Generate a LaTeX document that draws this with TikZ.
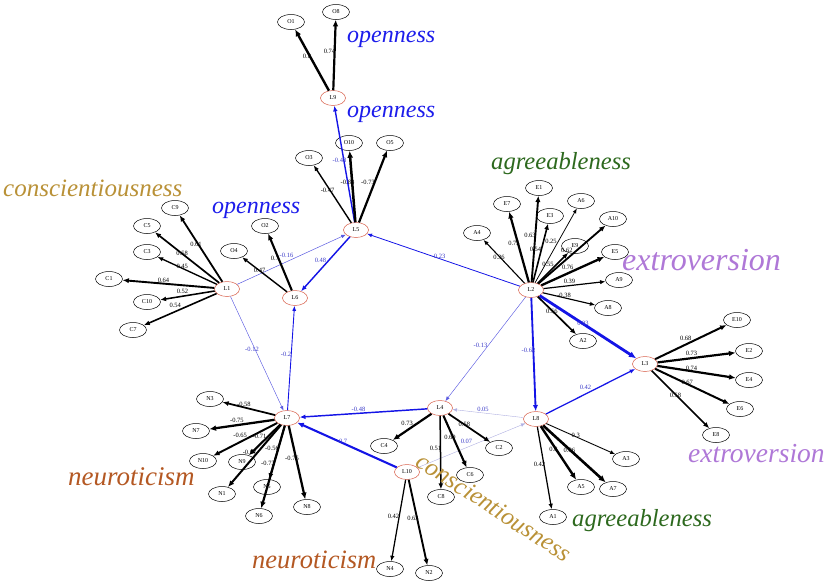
\documentclass[tikz,border=0pt]{standalone}
\usepackage{fontspec}
\setmainfont{Liberation Serif}
\usetikzlibrary{shapes.geometric,arrows.meta}
\definecolor{opn}{RGB}{28,28,235}
\definecolor{con}{RGB}{185,145,55}
\definecolor{agr}{RGB}{45,105,30}
\definecolor{ext}{RGB}{175,120,215}
\definecolor{neu}{RGB}{180,88,35}
\definecolor{latred}{RGB}{215,95,75}
\definecolor{sblue}{RGB}{20,20,230}
\definecolor{wblue}{RGB}{90,90,225}
\definecolor{fblue}{RGB}{175,175,225}
\definecolor{lblue}{RGB}{60,60,200}
\tikzset{
  ind/.style={ellipse,draw=black,line width=0.5pt,minimum width=27pt,minimum height=15pt,inner sep=0pt,font=\fontsize{6}{7}\selectfont},
  lat/.style={ellipse,draw=latred,line width=0.5pt,minimum width=25pt,minimum height=15pt,inner sep=0pt,font=\fontsize{6}{7}\selectfont},
  ld/.style={draw=black,line width=#1,-{Latex[length=4pt 1.2,width=3pt 1.2]}},
  bl/.style={draw=sblue,line width=#1,-{Latex[length=4pt 1.2,width=3pt 1.2]}},
  lbl/.style={font=\fontsize{6.5}{7}\selectfont,midway,xshift=-5pt,yshift=4pt,inner sep=0pt},
  blbl/.style={lbl,text=lblue},
  cat/.style={font=\itshape\fontsize{#1}{#1}\selectfont,inner sep=0pt,anchor=base west}
}
\begin{document}
\begin{tikzpicture}[x=1pt,y=-1pt]
\useasboundingbox (0,0) rectangle (828,582);
% latent nodes
\node[lat] (L9) at (333,98) {L9};
\node[lat] (L5) at (356,230) {L5};
\node[lat] (L1) at (227,289) {L1};
\node[lat] (L6) at (295,298) {L6};
\node[lat] (L2) at (531,290) {L2};
\node[lat] (L3) at (645,364) {L3};
\node[lat] (L7) at (287,418) {L7};
\node[lat] (L4) at (440,408) {L4};
\node[lat] (L8) at (536,419) {L8};
\node[lat] (L10) at (407,472) {L10};
% indicators
\node[ind] (O1) at (291,22) {O1};
\node[ind] (O8) at (336,12) {O8};
\node[ind] (O3) at (309,158) {O3};
\node[ind] (O10) at (349,143) {O10};
\node[ind] (O5) at (390,143) {O5};
\node[ind] (C9) at (175,208) {C9};
\node[ind] (C5) at (147,226) {C5};
\node[ind] (C3) at (147,252) {C3};
\node[ind] (C1) at (109,279) {C1};
\node[ind] (C10) at (147,302) {C10};
\node[ind] (C7) at (133,330) {C7};
\node[ind] (O4) at (234,251) {O4};
\node[ind] (O2) at (265,226) {O2};
\node[ind] (A4) at (477,233) {A4};
\node[ind] (E7) at (507,204) {E7};
\node[ind] (E1) at (539,188) {E1};
\node[ind] (E3) at (550,216) {E3};
\node[ind] (A6) at (581,201) {A6};
\node[ind] (A10) at (613,219) {A10};
\node[ind] (E9) at (575,246) {E9};
\node[ind] (E5) at (615,252) {E5};
\node[ind] (A9) at (619,280) {A9};
\node[ind] (A8) at (608,308) {A8};
\node[ind] (A2) at (583,341) {A2};
\node[ind] (E10) at (737,320) {E10};
\node[ind] (E2) at (749,351) {E2};
\node[ind] (E4) at (749,380) {E4};
\node[ind] (E6) at (740,409) {E6};
\node[ind] (E8) at (716,435) {E8};
\node[ind] (N3) at (210,399) {N3};
\node[ind] (N7) at (196,431) {N7};
\node[ind] (N10) at (203,461) {N10};
\node[ind] (N9) at (242,462) {N9};
\node[ind] (N1) at (222,494) {N1};
\node[ind] (N5) at (267,487) {N5};
\node[ind] (N6) at (259,516) {N6};
\node[ind] (N8) at (307,507) {N8};
\node[ind] (C4) at (384,446) {C4};
\node[ind] (C8) at (441,497) {C8};
\node[ind] (C6) at (470,475) {C6};
\node[ind] (C2) at (499,448) {C2};
\node[ind] (A3) at (626,459) {A3};
\node[ind] (A5) at (581,487) {A5};
\node[ind] (A7) at (613,489) {A7};
\node[ind] (A1) at (553,517) {A1};
\node[ind] (N4) at (390,569) {N4};
\node[ind] (N2) at (429,573) {N2};
% structural (blue) edges
\draw[bl=1.4] (L5) -- node[blbl]{-0.48} (L9);
\draw[bl=0.5,draw=wblue] (L1) -- node[blbl]{-0.16} (L5);
\draw[bl=1.45] (L5) -- node[blbl]{0.48} (L6);
\draw[bl=0.8] (L2) -- node[blbl]{-0.23} (L5);
\draw[bl=0.45,draw=wblue] (L1) -- node[blbl]{-0.12} (L7);
\draw[bl=0.9] (L7) -- node[blbl]{-0.2} (L6);
\draw[bl=0.45,draw=wblue] (L2) -- node[blbl]{-0.13} (L4);
\draw[bl=1.85] (L2) -- node[blbl]{-0.62} (L8);
\draw[bl=2.8] (L2) -- node[blbl]{0.93} (L3);
\draw[bl=1.25] (L8) -- node[blbl]{0.42} (L3);
\draw[bl=1.45] (L4) -- node[blbl]{-0.48} (L7);
\draw[bl=2.1] (L10) -- node[blbl]{-0.7} (L7);
\draw[bl=0.4,draw=fblue] (L8) -- node[blbl]{0.05} (L4);
\draw[bl=0.4,draw=fblue] (L10) -- node[blbl]{0.07} (L8);
% loadings
\draw[ld=2.4] (L9) -- node[lbl]{0.8} (O1);
\draw[ld=2.2] (L9) -- node[lbl]{0.74} (O8);
\draw[ld=1.4] (L5) -- node[lbl]{-0.47} (O3);
\draw[ld=2.5] (L5) -- node[lbl]{-0.84} (O10);
\draw[ld=2.2] (L5) -- node[lbl]{-0.73} (O5);
\draw[ld=1.8] (L1) -- node[lbl]{0.61} (C9);
\draw[ld=1.7] (L1) -- node[lbl]{0.58} (C5);
\draw[ld=1.35] (L1) -- node[lbl]{0.45} (C3);
\draw[ld=1.9] (L1) -- node[lbl]{0.64} (C1);
\draw[ld=1.55] (L1) -- node[lbl]{0.52} (C10);
\draw[ld=1.6] (L1) -- node[lbl]{0.54} (C7);
\draw[ld=1.4] (L6) -- node[lbl]{0.47} (O4);
\draw[ld=2.1] (L6) -- node[lbl]{0.7} (O2);
\draw[ld=1.1] (L2) -- node[lbl]{0.36} (A4);
\draw[ld=2.25] (L2) -- node[lbl]{0.75} (E7);
\draw[ld=1.9] (L2) -- node[lbl]{0.63} (E1);
\draw[ld=1.6] (L2) -- node[lbl]{0.54} (E3);
\draw[ld=0.75] (L2) -- node[lbl]{0.25} (A6);
\draw[ld=1.85] (L2) -- node[lbl]{0.62} (A10);
\draw[ld=1.65] (L2) -- node[lbl]{0.55} (E9);
\draw[ld=2.3] (L2) -- node[lbl]{0.76} (E5);
\draw[ld=1.2] (L2) -- node[lbl]{0.39} (A9);
\draw[ld=1.15] (L2) -- node[lbl]{-0.38} (A8);
\draw[ld=1.7] (L2) -- node[lbl]{0.56} (A2);
\draw[ld=2.0] (L3) -- node[lbl]{0.68} (E10);
\draw[ld=2.2] (L3) -- node[lbl]{0.73} (E2);
\draw[ld=2.2] (L3) -- node[lbl]{0.74} (E4);
\draw[ld=2.0] (L3) -- node[lbl]{0.67} (E6);
\draw[ld=1.75] (L3) -- node[lbl]{0.58} (E8);
\draw[ld=1.75] (L7) -- node[lbl]{-0.58} (N3);
\draw[ld=2.25] (L7) -- node[lbl]{-0.75} (N7);
\draw[ld=1.95] (L7) -- node[lbl]{-0.65} (N10);
\draw[ld=2.1] (L7) -- node[lbl]{-0.71} (N9);
\draw[ld=2.0] (L7) -- node[lbl]{-0.67} (N1);
\draw[ld=1.7] (L7) -- node[lbl]{-0.56} (N5);
\draw[ld=2.2] (L7) -- node[lbl]{-0.73} (N6);
\draw[ld=2.25] (L7) -- node[lbl]{-0.75} (N8);
\draw[ld=2.2] (L4) -- node[lbl]{0.73} (C4);
\draw[ld=1.5] (L4) -- node[lbl]{0.51} (C8);
\draw[ld=2.1] (L4) -- node[lbl]{0.69} (C6);
\draw[ld=1.75] (L4) -- node[lbl]{0.58} (C2);
\draw[ld=0.9] (L8) -- node[lbl]{0.3} (A3);
\draw[ld=2.4] (L8) -- node[lbl]{0.8} (A5);
\draw[ld=2.6] (L8) -- node[lbl]{0.86} (A7);
\draw[ld=1.25] (L8) -- node[lbl]{0.42} (A1);
\draw[ld=1.25] (L10) -- node[lbl]{0.42} (N4);
\draw[ld=1.9] (L10) -- node[lbl]{0.63} (N2);
% factor names
\node[cat=24,text=opn] (t1) at (347,42) {openness};
\node[cat=24,text=opn] (t2) at (347,117) {openness};
\node[cat=24,text=opn] (t3) at (212,213) {openness};
\node[cat=25,text=con] (t4) at (3,196) {conscientiousness};
\node[cat=24.6,text=agr] (t5) at (491,169) {agreeableness};
\node[cat=32,text=ext] (t6) at (622,270) {extroversion};
\node[cat=27.5,text=ext] (t7) at (688,462) {extroversion};
\node[cat=27,text=neu] (t8) at (68,485) {neuroticism};
\node[cat=26.5,text=neu] (t9) at (252,568) {neuroticism};
\node[cat=24.6,text=agr] (t10) at (572,526) {agreeableness};
\node[font=\itshape\fontsize{25}{25}\selectfont,inner sep=0pt,text=con,rotate=-33] (t11) at (494,507) {conscientiousness};
\end{tikzpicture}
\end{document}
